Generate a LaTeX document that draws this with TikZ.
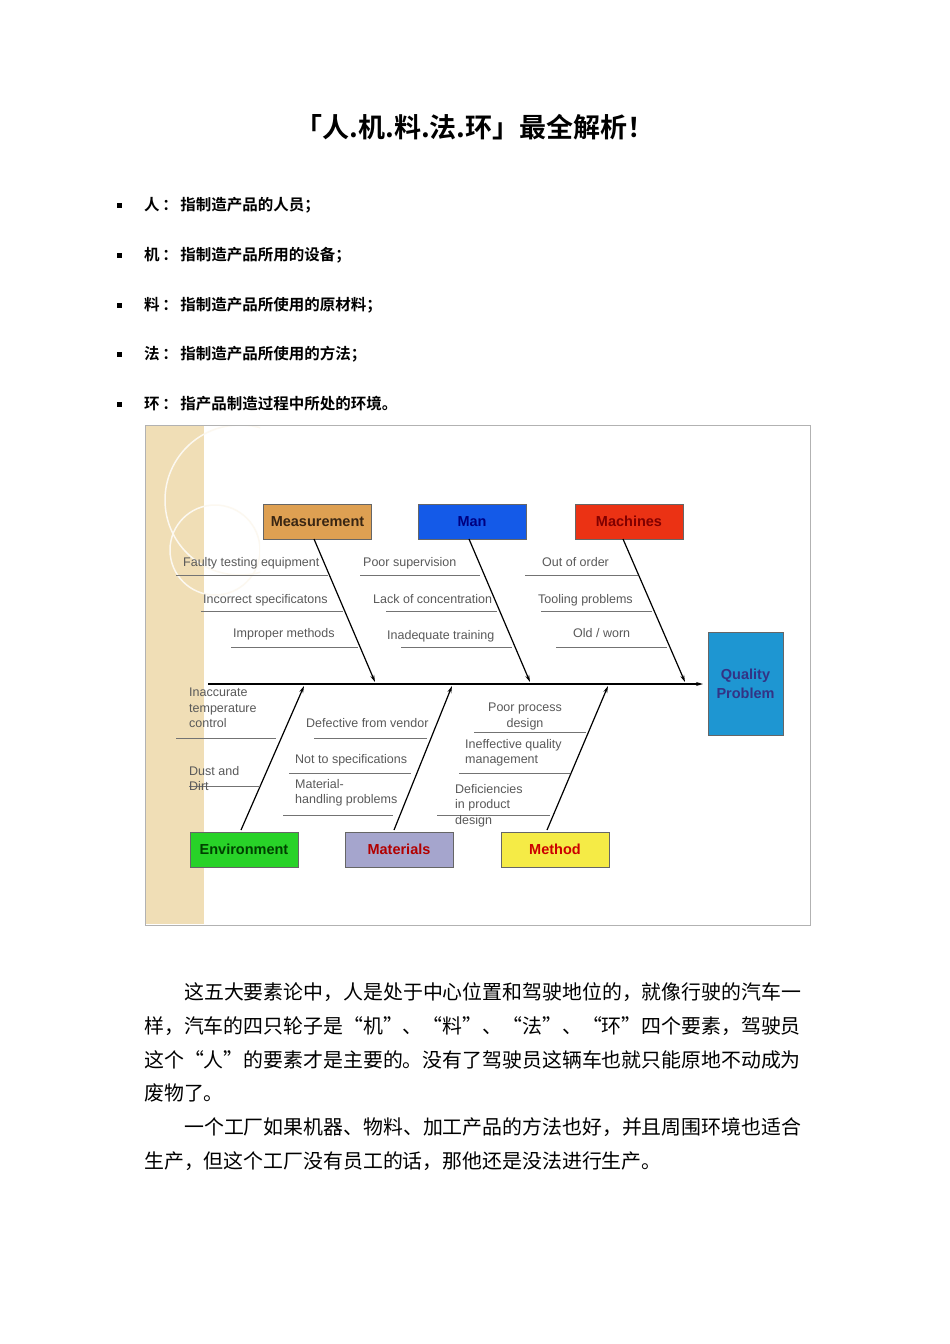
\documentclass[tikz,border=0pt]{standalone}
\usepackage{fontspec}
\setmainfont{Liberation Sans}
\newfontfamily\cjk{Noto Sans CJK SC}
\newfontfamily\cjkb{Noto Sans CJK SC Bold}
\usetikzlibrary{arrows.meta}
\definecolor{beige}{RGB}{240,222,182}
\definecolor{measc}{RGB}{222,160,82}
\definecolor{manc}{RGB}{20,90,232}
\definecolor{machc}{RGB}{235,50,20}
\definecolor{qpc}{RGB}{30,150,210}
\definecolor{envc}{RGB}{40,210,40}
\definecolor{matc}{RGB}{165,165,205}
\definecolor{methc}{RGB}{245,235,70}
\begin{document}
\begin{tikzpicture}[x=1pt,y=-1pt,
  lbl/.style={font=\fontsize{12.5}{15.5}\selectfont, text=black!65, inner sep=0pt, anchor=north west, align=left},
  rib/.style={draw=black!55, line width=0.9pt},
  bone/.style={draw=black, line width=1.2pt, -{Stealth[length=7pt,width=4pt]}},
  cat/.style={draw=black!60, minimum width=108pt, minimum height=35pt, inner sep=0pt, font=\bfseries\fontsize{14.5}{16}\selectfont},
  bul/.style={anchor=base west, inner sep=0pt, font=\cjkb\fontsize{15.5}{16}\selectfont},
  body/.style={anchor=base west, inner sep=0pt, font=\cjk\fontsize{19.9}{20}\selectfont}]
\useasboundingbox (0,0) rectangle (950,1344);
\fill[white] (0,0) rectangle (950,1344);
\node[inner sep=0pt, font=\cjkb\fontsize{27}{30}\selectfont] (title) at (475,127) {「人.机.料.法.环」最全解析！};
% bullets
\foreach \y/\t [count=\i] in {205/人\,：\,指制造产品的人员；,255/机\,：\,指制造产品所用的设备；,305/料\,：\,指制造产品所使用的原材料；,354/法\,：\,指制造产品所使用的方法；,404/环\,：\,指产品制造过程中所处的环境。}{
  \fill (116.5,\y-2.5) rectangle (121.5,\y+2.5);
  \node[bul] (b\i) at (144,\y+5) {\t};
}
% figure frame
\draw[black!30] (145,425) rectangle (810,925);
\fill[beige] (146,426) rectangle (204,924);
\begin{scope}
\clip (146,426) rectangle (260,600);
\draw[white!80!beige, line width=1.5pt] (240,500) circle (75);
\draw[white!80!beige, line width=1.5pt] (215,550) circle (45);
\end{scope}
% category boxes
\node[cat, fill=measc, text=black!70!brown] (meas) at (317.5,521.5) {Measurement};
\node[cat, fill=manc, text=blue!50!black] (man) at (472,521.5) {Man};
\node[cat, fill=machc, text=red!50!black] (mach) at (629,521.5) {Machines};
\node[draw=black!60, fill=qpc, minimum width=75pt, minimum height=103pt, inner sep=0pt, align=center, text=blue!40!black!80, font=\bfseries\fontsize{14.5}{19}\selectfont] (qp) at (745.5,683.5) {Quality\\Problem};
\node[cat, fill=envc, text=green!25!black] (env) at (244,849.5) {Environment};
\node[cat, fill=matc, text=red!70!black] (mat) at (399,849.5) {Materials};
\node[cat, fill=methc, text=red!80!black] (meth) at (555,849.5) {Method};
% spine
\coordinate (s0) at (208,684);
\coordinate (s1) at (703,684);
\draw[bone, line width=1.3pt] (s0) -- (s1);
\coordinate (e1) at (375,682); \coordinate (e2) at (530,682); \coordinate (e3) at (685,682);
\coordinate (e4) at (304,686); \coordinate (e5) at (452,686); \coordinate (e6) at (608,686);
\draw[bone] (314,539) -- (e1);
\draw[bone] (469,539) -- (e2);
\draw[bone] (623,539) -- (e3);
\draw[bone] (241,830) -- (e4);
\draw[bone] (394,830) -- (e5);
\draw[bone] (547,830) -- (e6);
% top ribs
\foreach \a/\b/\y in {176/328/575,201/343/611,231/358/647,360/480/575,386/497/611,401/512/647,525/638/575,541/652/611,556/667/647}
  \draw[rib] (\a,\y) -- (\b,\y);
\node[lbl] (t1) at (183,557) {Faulty testing equipment};
\node[lbl] (t2) at (203,594) {Incorrect specificatons};
\node[lbl] (t3) at (233,628) {Improper methods};
\node[lbl] (t4) at (363,557) {Poor supervision};
\node[lbl] (t5) at (373,594) {Lack of concentration};
\node[lbl] (t6) at (387,630) {Inadequate training};
\node[lbl] (t7) at (542,557) {Out of order};
\node[lbl] (t8) at (538,594) {Tooling problems};
\node[lbl] (t9) at (573,628) {Old / worn};
% bottom ribs
\foreach \a/\b/\y in {176/276/738,189/260/786,314/427/738,289/411/773,283/393/815,474/586/732,459/570/773,437/550/815}
  \draw[rib] (\a,\y) -- (\b,\y);
\node[lbl] (u1) at (189,688) {Inaccurate\\temperature\\control};
\node[lbl] (u2) at (189,766) {Dust and\\Dirt};
\node[lbl] (u3) at (306,718) {Defective from vendor};
\node[lbl] (u4) at (295,754) {Not to specifications};
\node[lbl] (u5) at (295,779) {Material-\\handling problems};
\node[lbl, align=center, anchor=north] (u6) at (525,703) {Poor process\\design};
\node[lbl] (u7) at (465,739) {Ineffective quality\\management};
\node[lbl] (u8) at (455,784) {Deficiencies\\in product\\design};
% body text
\node[body] (p1) at (184,999) {这五大要素论中，人是处于中心位置和驾驶地位的，就像行驶的汽车一};
\node[body] (p2) at (144,1033) {样，汽车的四只轮子是“机”、“料”、“法”、“环”四个要素，驾驶员};
\node[body] (p3) at (144,1067) {这个“人”的要素才是主要的。没有了驾驶员这辆车也就只能原地不动成为};
\node[body] (p4) at (144,1100) {废物了。};
\node[body] (p5) at (184,1134) {一个工厂如果机器、物料、加工产品的方法也好，并且周围环境也适合};
\node[body] (p6) at (144,1168) {生产，但这个工厂没有员工的话，那他还是没法进行生产。};
\end{tikzpicture}
\end{document}
